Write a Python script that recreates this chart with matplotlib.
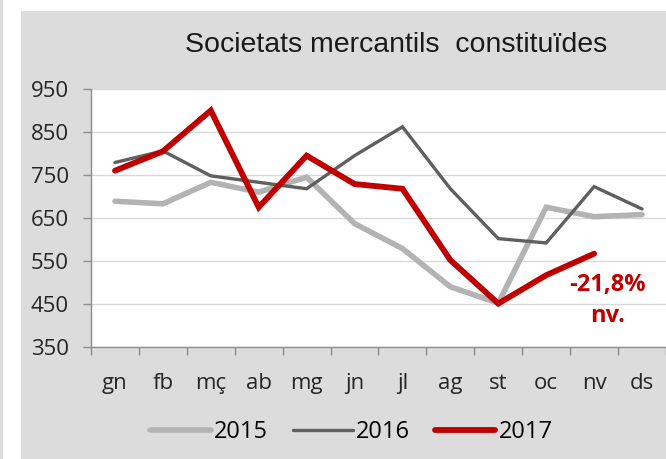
import matplotlib
matplotlib.use("Agg")
import matplotlib.pyplot as plt
from matplotlib.patches import Rectangle

months = ["gn", "fb", "mç", "ab", "mg", "jn", "jl", "ag", "st", "oc", "nv", "ds"]
s2015 = [689, 683, 733, 710, 745, 637, 579, 490, 452, 675, 653, 658]
s2016 = [779, 806, 748, 733, 718, 795, 862, 718, 602, 592, 723, 671]
s2017 = [760, 805, 900, 675, 795, 729, 718, 552, 451, 517, 567]
yticks = [350, 450, 550, 650, 750, 850, 950]
note = "-21,8%\nnv."

W, H = 666, 459
fig = plt.figure(figsize=(W / 100, H / 100), dpi=100, facecolor="white")
panel = "#dcdcdc"
fig.patches.append(Rectangle((21 / W, 0), 1 - 21 / W, 1 - 11 / H, transform=fig.transFigure,
                             facecolor=panel, edgecolor="none", zorder=-10))
fig.patches.append(Rectangle((0, 0), 3 / W, 1, transform=fig.transFigure,
                             facecolor=panel, edgecolor="none", zorder=-10))

ax = fig.add_axes([91 / W, 1 - 347 / H, (666 - 91) / W, (347 - 89) / H])
ax.set_facecolor("white")
x = list(range(12))
ax.plot(x, s2015, color="#b3b3b3", lw=4.0, solid_capstyle="round", solid_joinstyle="miter", label="2015", zorder=3)
ax.plot(x, s2016, color="#5f5f5f", lw=2.4, solid_capstyle="round", solid_joinstyle="miter", label="2016", zorder=4)
ax.plot(x[:len(s2017)], s2017, color="#c00000", lw=4.2, solid_capstyle="round", solid_joinstyle="miter", label="2017", zorder=5)

ax.set_xlim(-0.5, 11.5)
ax.set_ylim(350, 950)
ax.set_yticks(yticks)
ax.set_yticklabels([str(v) for v in yticks], fontsize=16, family="Open Sans", color="#262626")
ax.set_xticks(x)
ax.set_xticklabels(months, fontsize=16, family="Open Sans", color="#262626")
ax.set_xticks([i - 0.5 for i in range(13)], minor=True)
ax.tick_params(axis="x", which="major", length=0, pad=19)
ax.tick_params(axis="x", which="minor", length=6, color="#8c8c8c", width=1)
ax.tick_params(axis="y", length=6, color="#8c8c8c", width=1, pad=10)
ax.grid(axis="y", color="#d9d9d9", lw=1)
ax.set_axisbelow(True)
for s in ["top", "right"]:
    ax.spines[s].set_visible(False)
for s in ["left", "bottom"]:
    ax.spines[s].set_color("#8c8c8c")
    ax.spines[s].set_linewidth(1)

ax.annotate(note, xy=(10.29, 458), ha="center", va="center", fontsize=17, fontweight="bold",
            color="#c00000", family="Open Sans", linespacing=1.4)

fig.text(396.5 / W, 1 - 45 / H, "Societats mercantils  constituïdes", ha="center", va="center",
         fontsize=20.5, family="Liberation Sans", color="#1a1a1a")

fig.legend(loc="center", bbox_to_anchor=(351.5 / W, 1 - 432 / H), ncol=3, frameon=False,
           prop={"family": "Open Sans", "size": 17}, handlelength=2.55, handletextpad=0.13,
           columnspacing=1.06, borderpad=0, borderaxespad=0)

fig.savefig("out.png", dpi=100, facecolor="white")
